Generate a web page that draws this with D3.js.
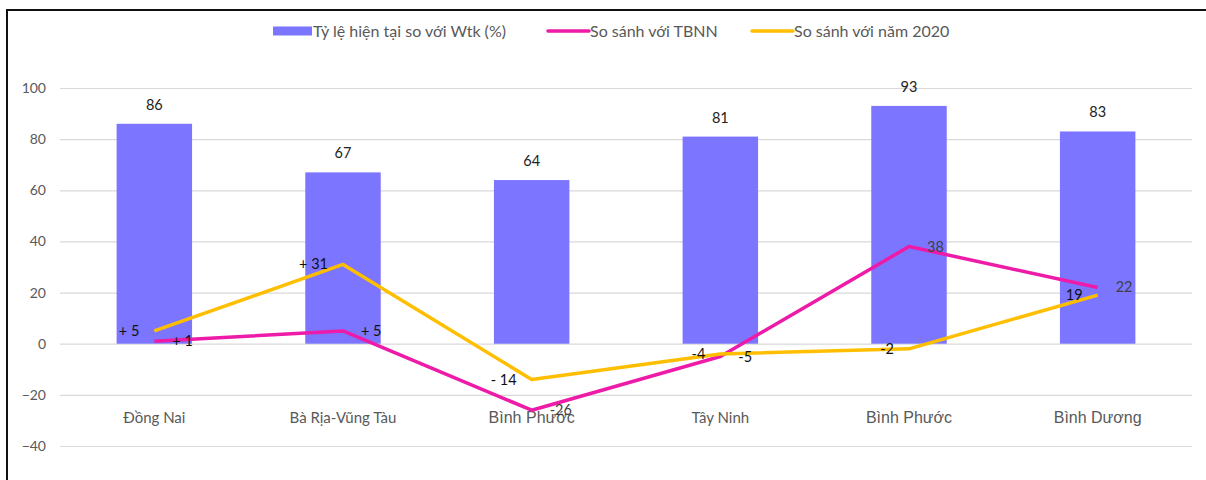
<!DOCTYPE html>
<html lang="vi">
<head>
  <meta charset="utf-8">
  <script src="https://d3js.org/d3.v7.min.js"></script>
  <style>
    body { margin: 0; background: #fff; }
    svg { display: block; }
    text { font-family: Lato, "Open Sans", sans-serif; }
  </style>
</head>
<body>
  <svg id="chart"></svg>
  <script>
    // data
    var provinces = ['Đồng Nai', 'Bà Rịa-Vũng Tàu', 'Bình Phước', 'Tây Ninh', 'Bình Phước', 'Bình Dương'];
    var ratioWtk = [86, 67, 64, 81, 93, 83];
    var vsTBNN = [1, 5, -26, -5, 38, 22];
    var vs2020 = [5, 31, -14, -4, -2, 19];
    var labelsTBNN = ['+ 1', '+ 5', '-26', '-5', '38', '22'];
    var labels2020 = ['+ 5', '+ 31', '- 14', '-4', '-2', '19'];
    var yTicks = [-40, -20, 0, 20, 40, 60, 80, 100];
    var seriesNames = ['Tỷ lệ hiện tại so với Wtk (%)', 'So sánh với TBNN', 'So sánh với năm 2020'];

    var width = 1206, height = 480;
    var colBar = '#7b75ff', colPink = '#ee1aa8', colYellow = '#ffbf00';

    var svg = d3.select('#chart').attr('width', width).attr('height', height);

    // frame (top and left only, like the screenshot)
    svg.append('line').attr('x1', 6).attr('x2', width).attr('y1', 10).attr('y2', 10)
      .attr('stroke', '#111').attr('stroke-width', 2);
    svg.append('line').attr('x1', 7).attr('x2', 7).attr('y1', 9).attr('y2', height)
      .attr('stroke', '#111').attr('stroke-width', 2);

    var x = d3.scaleBand()
      .domain(d3.range(provinces.length))
      .range([60, 1192])
      .padding(0);

    var y = d3.scaleLinear()
      .domain([-40, 100])
      .range([446, 88]);

    // gridlines + y labels
    var yAxis = d3.axisLeft(y).tickValues(yTicks).tickSize(-(1192 - 60)).tickPadding(14);
    var gy = svg.append('g').attr('transform', 'translate(60,0)').call(yAxis);
    gy.select('.domain').remove();
    gy.selectAll('.tick line').attr('stroke', '#d9d9d9').attr('stroke-width', 1.2);
    gy.selectAll('.tick text').attr('fill', '#595959').style('font-size', '14px')
      .style('font-family', 'Lato, sans-serif');

    var cx = function (i) { return x(i) + x.bandwidth() / 2; };
    var barW = x.bandwidth() * 0.4;

    // bars
    svg.append('g').selectAll('rect')
      .data(ratioWtk)
      .enter().append('rect')
      .attr('x', function (d, i) { return cx(i) - barW / 2; })
      .attr('y', function (d) { return y(d); })
      .attr('width', barW)
      .attr('height', function (d) { return y(0) - y(d); })
      .attr('fill', colBar);

    svg.append('g').selectAll('text')
      .data(ratioWtk)
      .enter().append('text')
      .attr('x', function (d, i) { return cx(i); })
      .attr('y', function (d) { return y(d) - 14; })
      .attr('text-anchor', 'middle')
      .attr('fill', '#222')
      .style('font-size', '14.5px')
      .text(function (d) { return d; });

    // category labels (the two "Bình ..." ones use a bigger, different face in the original)
    svg.append('g').selectAll('text')
      .data(provinces)
      .enter().append('text')
      .attr('x', function (d, i) { return cx(i); })
      .attr('y', 423)
      .attr('text-anchor', 'middle')
      .attr('fill', '#595959')
      .style('font-family', function (d) { return d.indexOf('Bình') === 0 ? '"Liberation Sans", Arial, sans-serif' : 'Lato, sans-serif'; })
      .style('font-size', function (d) { return d.indexOf('Bình') === 0 ? '16px' : '15px'; })
      .text(function (d) { return d; });

    // lines
    var line = d3.line()
      .x(function (d, i) { return cx(i); })
      .y(function (d) { return y(d); });

    svg.append('path').datum(vsTBNN)
      .attr('d', line).attr('fill', 'none')
      .attr('stroke', colPink).attr('stroke-width', 3.5).attr('stroke-linejoin', 'round');

    svg.append('path').datum(vs2020)
      .attr('d', line).attr('fill', 'none')
      .attr('stroke', colYellow).attr('stroke-width', 3.5).attr('stroke-linejoin', 'round');

    // line labels: TBNN to the right, 2020 to the left
    svg.append('g').selectAll('text')
      .data(vsTBNN)
      .enter().append('text')
      .attr('x', function (d, i) { return cx(i) + 18; })
      .attr('y', function (d) { return y(d) + 5; })
      .attr('fill', function (d, i) { return i >= 2 && i !== 3 ? '#404040' : '#111'; })
      .style('font-size', '14.5px')
      .text(function (d, i) { return labelsTBNN[i]; });

    svg.append('g').selectAll('text')
      .data(vs2020)
      .enter().append('text')
      .attr('x', function (d, i) { return cx(i) - 15; })
      .attr('y', function (d) { return y(d) + 5; })
      .attr('text-anchor', 'end')
      .attr('fill', '#111')
      .style('font-size', '14.5px')
      .text(function (d, i) { return labels2020[i]; });

    // legend
    var legend = svg.append('g').attr('transform', 'translate(0,31)')
      .style('font-family', 'Lato, sans-serif').style('font-size', '16px');
    legend.append('rect').attr('x', 273).attr('y', -4.5).attr('width', 39).attr('height', 9).attr('fill', colBar);
    legend.append('text').attr('x', 313).attr('y', 5.5).attr('fill', '#595959').text(seriesNames[0]);
    legend.append('line').attr('x1', 548).attr('x2', 589).attr('y1', 0).attr('y2', 0)
      .attr('stroke', colPink).attr('stroke-width', 3.5).attr('stroke-linecap', 'round');
    legend.append('text').attr('x', 590).attr('y', 5.5).attr('fill', '#595959').text(seriesNames[1]);
    legend.append('line').attr('x1', 752).attr('x2', 793).attr('y1', 0).attr('y2', 0)
      .attr('stroke', colYellow).attr('stroke-width', 3.5).attr('stroke-linecap', 'round');
    legend.append('text').attr('x', 794).attr('y', 5.5).attr('fill', '#595959').text(seriesNames[2]);
  </script>
</body>
</html>
